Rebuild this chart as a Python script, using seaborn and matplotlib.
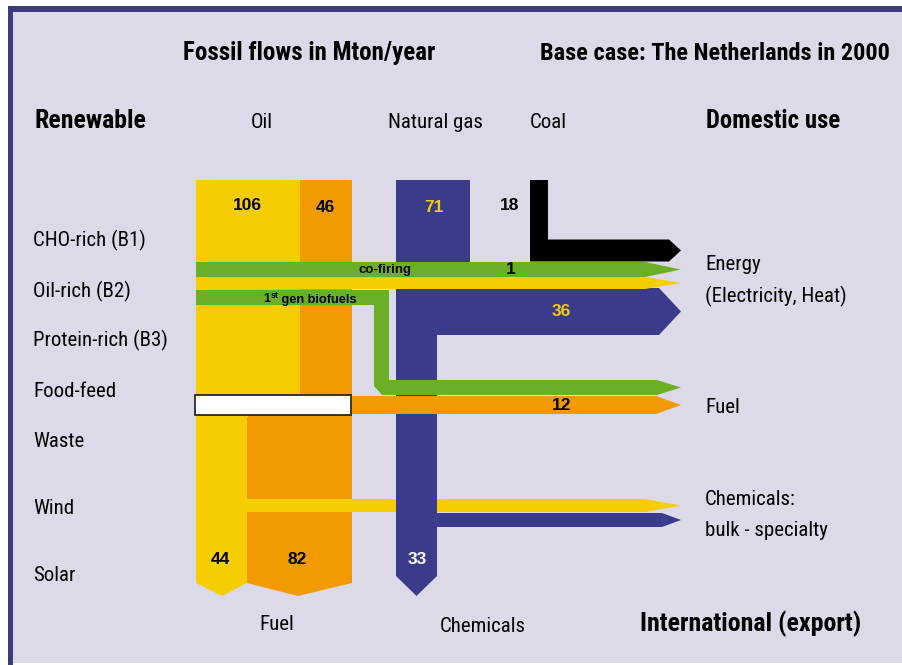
import matplotlib
matplotlib.use("Agg")
import matplotlib.pyplot as plt
from matplotlib.patches import Polygon, Rectangle
from matplotlib import font_manager
from matplotlib.font_manager import FontProperties
import seaborn as sns

# ---- data (Mton/year) ----
fossil_sources = ["Oil", "Natural gas", "Coal"]
supply_values = [106, 46, 71, 18]          # oil A, oil B, natural gas, coal
energy_values = [18, 1, 36]                # coal, co-firing, natural gas
fuel_value = 12
export_values = [44, 82, 33]               # oil A, oil B, natural gas
renewable_labels = ["CHO-rich (B1)", "Oil-rich (B2)", "Protein-rich (B3)",
                    "Food-feed", "Waste", "Wind", "Solar"]
use_labels = ["Energy", "(Electricity, Heat)", "Fuel", "Chemicals:", "bulk - specialty"]
export_labels = ["Fuel", "Chemicals"]

sns.set_theme(style="white")
plt.rcParams["font.family"] = ["Liberation Sans", "DejaVu Sans"]


def condensed_face(bold):
    """Pick an installed condensed/narrow sans face, or None."""
    want = 700 if bold else 400
    prefs = ["Liberation Sans Narrow", "Roboto Condensed", "Noto Sans",
             "Open Sans Condensed", "Open Sans", "DejaVu Sans Condensed", "DejaVu Sans"]
    cands = []
    for f in font_manager.fontManager.ttflist:
        nm = f.name
        narrowish = (f.stretch in ("condensed", "semi-condensed", "extra-condensed",
                                   "ultra-condensed")
                     or "Narrow" in nm or "Condensed" in nm
                     or "Condensed" in f.fname or "Narrow" in f.fname)
        if not narrowish or f.style != "normal":
            continue
        try:
            w = int(f.weight)
        except (TypeError, ValueError):
            w = 700 if "bold" in str(f.weight).lower() else 400
        rank = prefs.index(nm) if nm in prefs else len(prefs)
        semi = 1 if ("SemiCondensed" in f.fname or f.stretch == "semi-condensed") else 0
        extra = 1 if ("ExtraCondensed" in f.fname or f.stretch in ("extra-condensed",
                                                                    "ultra-condensed")) else 0
        cands.append((rank, semi + extra, abs(w - want), f.fname))
    if not cands:
        return None
    cands.sort()
    return FontProperties(fname=cands[0][3])


reg_fp = condensed_face(False)
bold_fp = condensed_face(True)
if reg_fp is None:
    reg_fp = FontProperties(family=["Roboto", "DejaVu Sans"])
if bold_fp is None:
    bold_fp = FontProperties(family=["Roboto", "DejaVu Sans"], weight="bold")

pal = sns.color_palette(["#f6cd00", "#f29a00", "#3a3b8b", "#6aaf26", "#000000"])
YEL, ORA, BLU, GRN, BLK = [matplotlib.colors.to_hex(c) for c in pal]
BG = "#dcdae8"
FRAME = "#3a3d7a"

fig = plt.figure(figsize=(9.03, 6.65), dpi=100)
fig.patch.set_facecolor("white")
ax = fig.add_axes([0, 0, 1, 1])
ax.set_xlim(0, 903)
ax.set_ylim(665, 0)
ax.axis("off")

# panel and frame
ax.add_patch(Rectangle((8, 6), 895, 657, facecolor=BG, edgecolor="none", zorder=0))
ax.add_patch(Rectangle((8, 6), 895, 6, facecolor=FRAME, edgecolor="none", zorder=1))
ax.add_patch(Rectangle((8, 6), 5.5, 659, facecolor=FRAME, edgecolor="none", zorder=1))


def poly(pts, color, z):
    ax.add_patch(Polygon(pts, closed=True, facecolor=color, edgecolor="none", zorder=z))


def band(x0, xb, tip, y0, y1, color, z):
    """Horizontal flow band ending in an arrow head."""
    poly([(x0, y0), (xb, y0), (tip, (y0 + y1) / 2), (xb, y1), (x0, y1)], color, z)


TIP = 681
# oil columns
poly([(196, 180), (300, 180), (300, 396), (196, 396)], YEL, 2)
poly([(196, 414), (247, 414), (247, 583), (222, 596), (196, 583)], YEL, 2)
poly([(300, 180), (352, 180), (352, 396), (300, 396)], ORA, 2)
poly([(247, 417), (252, 414), (352, 414), (352, 583), (298, 596), (247, 583)], ORA, 2)
# oil to chemicals, behind the gas column
band(247, 645, TIP, 499, 512, YEL, 3)
# natural gas column with its energy branch
poly([(396, 180), (470, 180), (470, 288), (659, 288), (TIP, 311.5), (659, 335),
      (437, 335), (437, 576), (416.5, 596), (396, 576)], BLU, 4)
band(437, 662, TIP, 513, 527, BLU, 4)
# coal
poly([(530, 180), (548, 180), (548, 239.5), (669, 239.5), (TIP, 250.5),
      (669, 261.5), (530, 261.5)], BLK, 4)
# energy bands crossing the columns
band(196, 645, TIP, 277, 289, YEL, 5)
band(196, 645, TIP, 262, 277, GRN, 6)
# 1st generation biofuels
poly([(196, 290), (389, 290), (389, 380), (657, 380), (TIP, 387.5), (657, 395),
      (382, 395), (374, 386), (374, 305), (196, 305)], GRN, 6)
# fuel
band(352, 656, TIP, 396, 414, ORA, 6)
ax.add_patch(Rectangle((195, 395), 156, 20, facecolor="white", edgecolor="#1a1a1a",
                       linewidth=1.2, zorder=7))

# ---- value labels ----
NUM = ["Liberation Sans", "DejaVu Sans"]
nk = dict(family=NUM, fontsize=12.5, fontweight="bold", ha="center", va="center", zorder=10)
ax.text(247, 206, f"{supply_values[0]}", color=BLK, **nk)
ax.text(325, 207, f"{supply_values[1]}", color=BLK, **nk)
ax.text(434, 207, f"{supply_values[2]}", color=YEL, **nk)
ax.text(510, 206, f"{supply_values[3]}", color=BLK, **nk)
ax.text(511, 270, f"{energy_values[1]}", color=BLK, **nk)
ax.text(561, 311, f"{energy_values[2]}", color=YEL, **nk)
ax.text(562, 405, f"{fuel_value}", color=BLK, **nk)
ax.text(220, 559, f"{export_values[0]}", color=BLK, **nk)
ax.text(297, 559, f"{export_values[1]}", color=BLK, **nk)
ax.text(417, 560, f"{export_values[2]}", color="white", **nk)

sk = dict(family=NUM, fontweight="bold", color=BLK, va="baseline", zorder=10)
ax.text(385, 273.5, "co-firing", fontsize=9.5, ha="center", **sk)
# "1st gen biofuels" with superscript
fig.canvas.draw()
r = fig.canvas.get_renderer()
inv = ax.transData.inverted()
t1 = ax.text(263, 302.5, "1", fontsize=9.2, ha="left", **sk)
x_after = inv.transform(t1.get_window_extent(r).get_points())[1][0]
t2 = ax.text(x_after + 0.5, 297.5, "st", fontsize=6.3, ha="left", **sk)
x_after = inv.transform(t2.get_window_extent(r).get_points())[1][0]
ax.text(x_after, 302.5, " gen biofuels", fontsize=9.2, ha="left", **sk)

# ---- headings and labels ----
BK = dict(fontproperties=bold_fp, color="black", va="baseline")
RG = dict(fontproperties=reg_fp, fontsize=15, color="black", va="baseline")
ax.text(309, 60, "Fossil flows in Mton/year", ha="center", fontsize=18, **BK)
ax.text(890, 60, "Base case: The Netherlands in 2000", ha="right", fontsize=17.5, **BK)
ax.text(35, 128, "Renewable", ha="left", fontsize=18.5, **BK)
ax.text(706, 128, "Domestic use", ha="left", fontsize=17.8, **BK)
ax.text(640, 631, "International (export)", ha="left", fontsize=18.6, **BK)

for name, xc in zip(fossil_sources, [262, 435, 548]):
    ax.text(xc, 128, name, ha="center", **RG)

for name, yb in zip(renewable_labels, [246, 297, 346, 397, 447, 514, 581]):
    ax.text(33, yb, name, ha="left", **RG)

for name, yb in zip(use_labels, [270, 302, 413, 505, 536]):
    ax.text(705, yb, name, ha="left", **RG)

for name, xc, yb in zip(export_labels, [277, 483], [630, 632]):
    ax.text(xc, yb, name, ha="center", **RG)

fig.savefig("out.png", dpi=100, facecolor=fig.get_facecolor())
